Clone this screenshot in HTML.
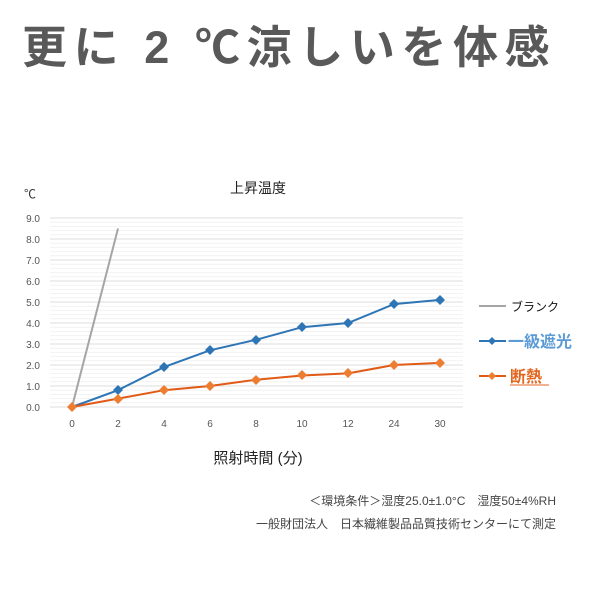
<!DOCTYPE html><html><head><meta charset="utf-8"><style>
body{margin:0;width:600px;height:600px;background:#fff;overflow:hidden;font-family:"Liberation Sans","Noto Sans CJK JP",sans-serif}
</style></head><body>
<svg width="600" height="600" xmlns="http://www.w3.org/2000/svg" font-family="Liberation Sans, Noto Sans CJK JP, sans-serif">
<text x="22" y="63" font-size="45" font-weight="bold" fill="#595959" letter-spacing="6.6">更に 2 ℃涼しいを体感</text>
<text x="258" y="193" font-size="14" fill="#222" text-anchor="middle">上昇温度</text>
<text x="24" y="198" font-size="12" fill="#333">℃</text>
<g id="g"></g>
<g font-size="10" fill="#555" text-anchor="end">
<text x="40" y="222">9.0</text><text x="40" y="243">8.0</text><text x="40" y="264">7.0</text><text x="40" y="285">6.0</text><text x="40" y="306">5.0</text><text x="40" y="327">4.0</text><text x="40" y="348">3.0</text><text x="40" y="369">2.0</text><text x="40" y="390">1.0</text><text x="40" y="411">0.0</text>
</g>
<g font-size="10" fill="#555" text-anchor="middle">
<text x="72" y="427">0</text><text x="118" y="427">2</text><text x="164" y="427">4</text><text x="210" y="427">6</text><text x="256" y="427">8</text><text x="302" y="427">10</text><text x="348" y="427">12</text><text x="394" y="427">24</text><text x="440" y="427">30</text>
</g>
<text x="258" y="463" font-size="15" fill="#222" text-anchor="middle">照射時間 (分)</text>
<line x1="72" y1="407" x2="118" y2="228.5" stroke="#a5a5a5" stroke-width="2"/>
<polyline points="72,407 118,390.2 164,367.1 210,350.3 256,339.8 302,327.2 348,323 394,304.1 440,299.9" fill="none" stroke="#2e75b6" stroke-width="2"/>
<polyline points="72,407 118,398.6 164,390.2 210,386 256,379.7 302,375.5 348,373.4 394,365 440,362.9" fill="none" stroke="#e15a16" stroke-width="2"/>
<g fill="#2e75b6">
<path d="M118,385 l5,5 -5,5 -5,-5z"/><path d="M164,362 l5,5 -5,5 -5,-5z"/><path d="M210,345 l5,5 -5,5 -5,-5z"/><path d="M256,335 l5,5 -5,5 -5,-5z"/><path d="M302,322 l5,5 -5,5 -5,-5z"/><path d="M348,318 l5,5 -5,5 -5,-5z"/><path d="M394,299 l5,5 -5,5 -5,-5z"/><path d="M440,295 l5,5 -5,5 -5,-5z"/>
</g>
<g fill="#ed7d31">
<path d="M72,402 l5,5 -5,5 -5,-5z"/><path d="M118,394 l5,5 -5,5 -5,-5z"/><path d="M164,385 l5,5 -5,5 -5,-5z"/><path d="M210,381 l5,5 -5,5 -5,-5z"/><path d="M256,375 l5,5 -5,5 -5,-5z"/><path d="M302,370 l5,5 -5,5 -5,-5z"/><path d="M348,368 l5,5 -5,5 -5,-5z"/><path d="M394,360 l5,5 -5,5 -5,-5z"/><path d="M440,358 l5,5 -5,5 -5,-5z"/>
</g>
<line x1="479" y1="306" x2="506" y2="306" stroke="#a5a5a5" stroke-width="2"/>
<text x="511" y="311" font-size="12" fill="#111">ブランク</text>
<line x1="479" y1="341" x2="506" y2="341" stroke="#2e75b6" stroke-width="2"/>
<path d="M492,337 l4,4 -4,4 -4,-4z" fill="#2e75b6"/>
<text x="508" y="347" font-size="16" font-weight="bold" fill="#5b9bd5">一級遮光</text>
<line x1="479" y1="376" x2="506" y2="376" stroke="#e15a16" stroke-width="2"/>
<path d="M492,372 l4,4 -4,4 -4,-4z" fill="#ed7d31"/>
<text x="510" y="382" font-size="16" font-weight="bold" fill="#e2661f">断熱</text>
<line x1="510" y1="385" x2="549" y2="385" stroke="#e2661f" stroke-width="1"/>
<text x="556" y="505" font-size="12" fill="#444" text-anchor="end">＜環境条件＞湿度25.0±1.0°C　湿度50±4%RH</text>
<text x="556" y="528" font-size="12" fill="#444" text-anchor="end">一般財団法人　日本繊維製品品質技術センターにて測定</text>
</svg>
<script>
var g=document.getElementById('g'),s='';
for(var i=0;i<=45;i++){var y=218+i*4.2;s+='<line x1="50" x2="463" y1="'+y+'" y2="'+y+'" stroke="'+(i%5==0?'#dcdcdc':'#f2f2f2')+'"/>';}
g.innerHTML=s;
</script>
</body></html>
